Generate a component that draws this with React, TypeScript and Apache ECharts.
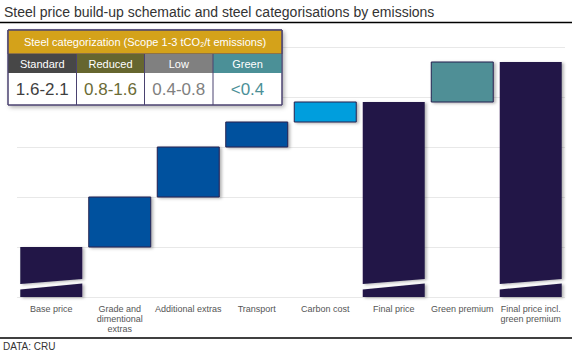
import React, { useEffect, useRef } from "react";
import * as echarts from "echarts";

const categories = [
  "Base price",
  "Grade and\ndimentional\nextras",
  "Additional extras",
  "Transport",
  "Carbon cost",
  "Final price",
  "Green premium",
  "Final price incl.\ngreen premium",
];
const barLow = [0, 1, 2, 3, 3.5, 0, 3.9, 0];
const barHigh = [1, 2, 3, 3.5, 3.9, 3.9, 4.7, 4.7];
const barKind = ["total", "step", "step", "step", "carbon", "total", "green", "total"];
const barBroken = [1, 0, 0, 0, 0, 1, 0, 1];

const legendNames = ["Standard", "Reduced", "Low", "Green"];
const legendRanges = ["1.6-2.1", "0.8-1.6", "0.4-0.8", "<0.4"];
const legendHeader = "Steel categorization (Scope 1-3 tCO\u2082/t emissions)";

const kindColors: Record<string, string> = {
  total: "#211747",
  step: "#00519E",
  carbon: "#009EDD",
  green: "#4F8F96",
};
const legendBg = ["#474747", "#66662F", "#808080", "#4B9097"];
const legendFg = ["#3f3f3f", "#6B6B35", "#808080", "#4B9097"];

const FONT = "'Liberation Sans', Arial, sans-serif";

export default function App() {
  const ref = useRef<HTMLDivElement>(null);
  useEffect(() => {
    if (!ref.current) return;
    const chart = echarts.init(ref.current, undefined, { renderer: "svg" });
    const data = categories.map((_, i) => [i, barLow[i], barHigh[i], barBroken[i]]);

    const shadow = {
      shadowBlur: 3,
      shadowOffsetX: 2,
      shadowOffsetY: 1,
      shadowColor: "rgba(0,0,0,0.3)",
    };

    const renderItem = (params: any, api: any) => {
      const i = api.value(0);
      const lo = api.value(1);
      const hi = api.value(2);
      const broken = api.value(3);
      const bw = api.size([1, 0])[0] * 0.905;
      const cx = api.coord([i, 0])[0];
      const x0 = cx - bw / 2;
      const x1 = cx + bw / 2;
      const yLo = api.coord([i, lo])[1];
      const yHi = api.coord([i, hi])[1];
      const fill = kindColors[barKind[i]];
      const y = (v: number) => api.coord([i, v])[1];
      if (broken) {
        return {
          type: "group",
          children: [
            {
              type: "polygon",
              shape: { points: [[x0, yLo], [x1, yLo], [x1, y(0.27)], [x0, y(0.15)]] },
              style: { fill, ...shadow },
            },
            {
              type: "polygon",
              shape: { points: [[x0, y(0.26)], [x1, y(0.36)], [x1, yHi], [x0, yHi]] },
              style: { fill, ...shadow },
            },
          ],
        };
      }
      return {
        type: "rect",
        shape: { x: x0, y: yHi, width: bw, height: yLo - yHi },
        style: { fill, stroke: "#26204f", lineWidth: 1, ...shadow },
      };
    };

    const Z = 100;
    const colX = [8, 76.5, 144.5, 213, 282];
    const tableChildren: any[] = [
      {
        type: "rect",
        z: Z,
        shape: { x: 8, y: 30, width: 274, height: 75 },
        style: { fill: "#ffffff", stroke: "#4a4270", lineWidth: 1, shadowBlur: 4, shadowOffsetX: 2, shadowOffsetY: 2, shadowColor: "rgba(0,0,0,0.3)" },
      },
      {
        type: "rect",
        z: Z + 1,
        shape: { x: 8, y: 30, width: 274, height: 24 },
        style: { fill: "#D4A21A", stroke: "#4a4270", lineWidth: 1 },
      },
      {
        type: "text",
        z: Z + 3,
        x: 145,
        y: 42,
        style: { text: legendHeader, fill: "#ffffff", font: `11px ${FONT}`, align: "center", verticalAlign: "middle" },
      },
    ];
    legendNames.forEach((name, k) => {
      const x = colX[k];
      const w = colX[k + 1] - colX[k];
      tableChildren.push({
        type: "rect",
        z: Z + 1,
        shape: { x, y: 54, width: w, height: 19 },
        style: { fill: legendBg[k] },
      });
      tableChildren.push({
        type: "text",
        z: Z + 3,
        x: x + w / 2,
        y: 64,
        style: { text: name, fill: "#ffffff", font: `11px ${FONT}`, align: "center", verticalAlign: "middle" },
      });
      tableChildren.push({
        type: "text",
        z: Z + 3,
        x: x + w / 2,
        y: 89,
        style: { text: legendRanges[k], fill: legendFg[k], font: `17px ${FONT}`, align: "center", verticalAlign: "middle" },
      });
      if (k > 0) {
        tableChildren.push({
          type: "line",
          z: Z + 2,
          shape: { x1: x, y1: 54, x2: x, y2: 105 },
          style: { stroke: "#4a4270", lineWidth: 1 },
        });
      }
    });
    tableChildren.push({
      type: "rect",
      z: Z + 2,
      shape: { x: 8, y: 30, width: 274, height: 75 },
      style: { fill: "none", stroke: "#4a4270", lineWidth: 1 },
    });

    chart.setOption({
      animation: false,
      grid: { left: 17, right: 16, top: 47, bottom: 56 },
      xAxis: {
        type: "category",
        data: categories,
        axisLine: { show: false },
        axisTick: { show: false },
        axisLabel: {
          interval: 0,
          fontSize: 9,
          lineHeight: 10,
          color: "#555555",
          fontFamily: FONT,
          margin: 7,
        },
      },
      yAxis: {
        type: "value",
        min: 0,
        max: 5,
        interval: 1,
        axisLabel: { show: false },
        axisLine: { show: false },
        axisTick: { show: false },
        splitLine: { lineStyle: { color: "#e8e8e8", width: 1 } },
      },
      series: [
        {
          type: "custom",
          renderItem,
          data,
          encode: { x: 0, y: [1, 2] },
        },
      ],
      graphic: {
        elements: [
          {
            type: "text",
            left: 4,
            top: 5,
            z: Z,
            style: { text: "Steel price build-up schematic and steel categorisations by emissions", fill: "#333333", font: `14px ${FONT}` },
          },
          { type: "line", z: Z, shape: { x1: 0, y1: 22.5, x2: 572, y2: 22.5 }, style: { stroke: "#000000", lineWidth: 1.5 } },
          { type: "line", z: Z, shape: { x1: 0, y1: 338, x2: 572, y2: 338 }, style: { stroke: "#000000", lineWidth: 1.5 } },
          {
            type: "text",
            left: 3,
            top: 341,
            z: Z,
            style: { text: "DATA: CRU", fill: "#333333", font: `10px ${FONT}` },
          },
          ...tableChildren,
        ],
      },
    });
    return () => chart.dispose();
  }, []);
  return <div ref={ref} style={{ width: 581, height: 353, position: "absolute", left: 0, top: 0 }} />;
}
